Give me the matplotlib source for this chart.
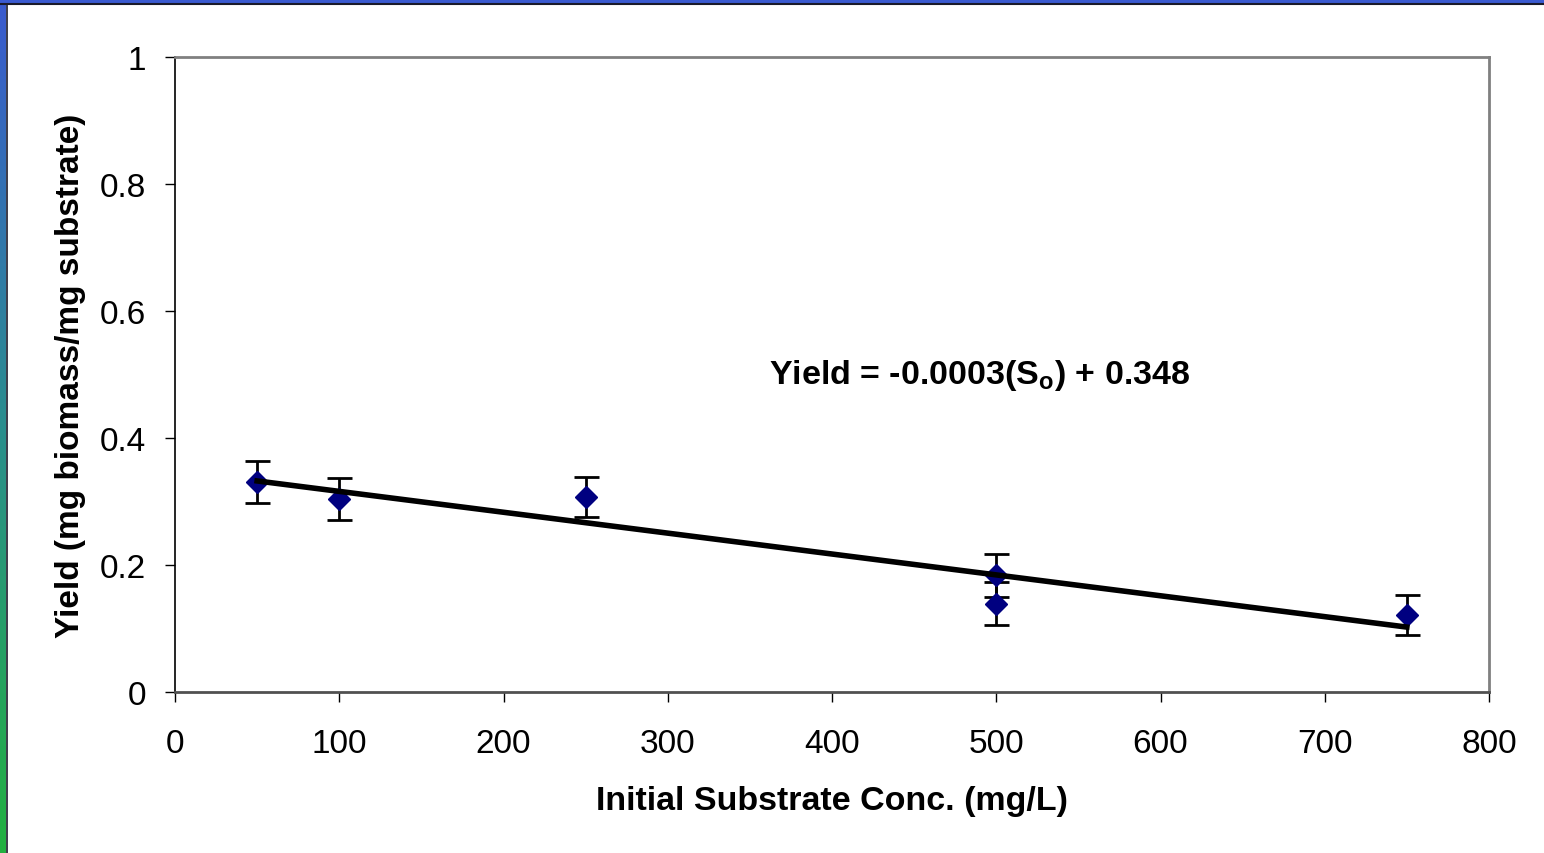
import numpy as np
import matplotlib.pyplot as plt
from matplotlib.colors import LinearSegmentedColormap

plt.rcParams['font.family'] = ['Liberation Sans', 'DejaVu Sans']

# initial substrate conc. (mg/L) and yield (mg biomass/mg substrate)
conc = [50, 100, 250, 500, 500, 750]
yield_vals = [0.331, 0.304, 0.307, 0.184, 0.139, 0.121]
yield_err = [0.033, 0.033, 0.031, 0.034, 0.034, 0.031]

x_ticks = [0, 100, 200, 300, 400, 500, 600, 700, 800]
y_ticks = [0, 0.2, 0.4, 0.6, 0.8, 1]
y_tick_labels = ['0', '0.2', '0.4', '0.6', '0.8', '1']

# linear trend through the points
slope, intercept = np.polyfit(conc, yield_vals, 1)
fit_x = np.array([min(conc), max(conc)])
fit_y = slope * fit_x + intercept

W, H = 1544, 854
fig = plt.figure(figsize=(W / 100, H / 100), dpi=100)
fig.patch.set_facecolor('white')

# slide frame: blue bar on top, blue->green strip on the left
cmap = LinearSegmentedColormap.from_list('frame', ['#3a5ad0', '#2a8e8e', '#22b040'])
strip = fig.add_axes([0, 0, 6 / W, 1])
strip.imshow(np.linspace(0, 1, 256).reshape(-1, 1), aspect='auto', cmap=cmap)
strip.axis('off')
top = fig.add_axes([0, 1 - 4 / H, 1, 4 / H])
top.set_facecolor('#3a5ad0')
top.set_xticks([])
top.set_yticks([])
for s in top.spines.values():
    s.set_visible(False)
fig.add_artist(plt.Line2D([0, 1], [1 - 5 / H, 1 - 5 / H], color='#1a1a2a', lw=1.5))
fig.add_artist(plt.Line2D([6.5 / W, 6.5 / W], [0, 1 - 5 / H], color='#1a1a2a', lw=1.2))

ax = fig.add_axes([175 / W, 1 - 693 / H, (1489 - 175) / W, (693 - 58) / H])
ax.errorbar(conc, yield_vals, yerr=yield_err, fmt='none', ecolor='black',
            elinewidth=2, capsize=9, capthick=2, zorder=2)
ax.plot(conc, yield_vals, 'D', color='#000080', markersize=11, zorder=3)
ax.plot(fit_x, fit_y, color='black', lw=4, zorder=4)

ax.set_xlim(0, 800)
ax.set_ylim(0, 1)
ax.set_xticks(x_ticks)
ax.set_yticks(y_ticks)
ax.set_yticklabels(y_tick_labels)
ax.tick_params(direction='out', length=7, width=1, labelsize=24)
ax.tick_params(axis='x', pad=19)
ax.tick_params(axis='y', pad=14)

for side in ['top', 'right']:
    ax.spines[side].set_color('#808080')
    ax.spines[side].set_linewidth(2)
ax.spines['left'].set_color('black')
ax.spines['bottom'].set_color('#505050')
ax.spines['left'].set_linewidth(1.2)
ax.spines['bottom'].set_linewidth(2)

ax.set_xlabel('Initial Substrate Conc. (mg/L)', fontsize=24.5, fontweight='bold', labelpad=19)
ax.set_ylabel('Yield (mg biomass/mg substrate)', fontsize=24, fontweight='bold', labelpad=10)

ax.text(490, 0.50, r'Yield = -0.0003(S$_\mathregular{o}$) + 0.348', fontsize=24.5,
        fontweight='bold', ha='center', va='center')

fig.savefig('out.png', dpi=100)
